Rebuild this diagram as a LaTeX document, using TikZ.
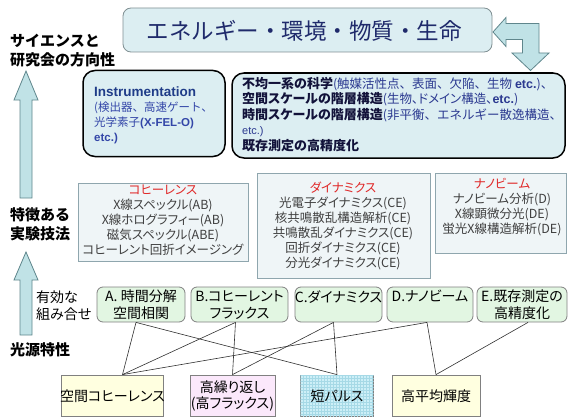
\documentclass[tikz,border=0pt]{standalone}
\usepackage{fontspec}
\setmainfont{Noto Sans CJK JP}[RawFeature={+palt}]
\newfontfamily\fw{Noto Sans CJK JP}
\newfontfamily\arl{Liberation Sans}
\usetikzlibrary{patterns,calc}
\definecolor{titleblue}{HTML}{1F2A6B}
\definecolor{topfill}{HTML}{DCEEF2}
\definecolor{topborder}{HTML}{7F8F92}
\definecolor{arrowfill}{HTML}{C0E2E6}
\definecolor{arrowdraw}{HTML}{5F868C}
\definecolor{techfill}{HTML}{EFF5F7}
\definecolor{techborder}{HTML}{8FA6AE}
\definecolor{combofill}{HTML}{E2F6E2}
\definecolor{yelfill}{HTML}{FFFFE0}
\definecolor{pinkfill}{HTML}{FBE8FB}
\definecolor{pulsefill}{HTML}{CDEFF7}
\definecolor{pulsegrid}{HTML}{A6D9E6}
\definecolor{redtitle}{HTML}{E02828}
\definecolor{graytext}{HTML}{404040}
\definecolor{boldnavy}{HTML}{12123A}
\definecolor{parenblue}{HTML}{2B3990}
\definecolor{instblue}{HTML}{1F3C88}
\definecolor{instlight}{HTML}{3346A8}
\definecolor{linkcol}{HTML}{303030}
\begin{document}
\begin{tikzpicture}[x=1pt,y=-1pt,
  arrowshape/.style={fill=arrowfill, draw=arrowdraw, line width=0.8},
  topbox/.style={draw=topborder, fill=topfill, rounded corners=8, line width=0.8, inner sep=0},
  scibox/.style={draw=black, fill=topfill, rounded corners=12, line width=1.5, inner sep=0},
  techbox/.style={draw=techborder, fill=techfill, line width=1, inner sep=0},
  combobox/.style={draw=gray, fill=combofill, rounded corners=6, line width=0.8, inner sep=0},
  srcbox/.style={draw=gray, line width=0.8, inner sep=0},
  link/.style={draw=linkcol, line width=0.6},
  sidelbl/.style={font=\fw\bfseries\fontsize{15}{19}\selectfont, align=left, anchor=west, inner sep=0},
  techtxt/.style={font=\fontsize{12.5}{15}\selectfont, text=graytext, align=center, inner sep=0},
  combotxt/.style={font=\fontsize{14}{17}\selectfont, align=center, anchor=north, inner sep=0},
  srctxt/.style={font=\fontsize{14}{16}\selectfont, align=center, inner sep=0}
]
\useasboundingbox (0,0) rectangle (570,420);

% left labels
\node[sidelbl] (lblsci) at (10,51) {サイエンスと\\研究会の方向性};
\node[sidelbl] (lbltech) at (10,224) {特徴ある\\実験技法};
\node[sidelbl] (lblsrc) at (10,350) {光源特性};
\node[font=\fontsize{14}{17}\selectfont, align=left, anchor=west, inner sep=0] (lblcomb) at (36,306) {有効な\\組み合せ};

% left arrows
\draw[arrowshape] (20,198) -- (20,100) -- (14,100) -- (26,71) -- (38,100) -- (32,100) -- (32,198) -- cycle;
\draw[arrowshape] (20,335) -- (20,280) -- (14,280) -- (26,252) -- (38,280) -- (32,280) -- (32,335) -- cycle;

% top box
\node[topbox, minimum width=369, minimum height=44] (top) at (307.5,30) {};
\node[font=\fw\fontsize{22.5}{26}\selectfont, text=titleblue, inner sep=0] (toptxt) at (304,31) {エネルギー・環境・物質・生命};

% bent arrow
\draw[arrowshape] (493,32) -- (506,17.5) -- (506,23.5) -- (539,23.5) -- (539,53) -- (549,53) -- (530.5,70.5) -- (512,53) -- (522.5,53) -- (522.5,39.5) -- (506,39.5) -- (506,46.5) -- cycle;

% science boxes
\node[scibox, minimum width=142, minimum height=86] (inst) at (154,113.5) {};
\node[anchor=north west, align=left, inner sep=0, text=instlight, font=\fontsize{11.5}{15}\selectfont] (insttxt) at (94,87)
 {{\color{instblue}\arl\bfseries\fontsize{13.5}{15}\selectfont Instrumentation}\\({\fw 検出器、高速ゲート、}\\光学素子{\arl\bfseries (X-FEL-O)}\\{\arl\bfseries etc.)}};
\node[scibox, minimum width=333, minimum height=85] (sci) at (398.5,115.5) {};
\node[anchor=north west, align=left, inner sep=0, font=\fontsize{13}{15.5}\selectfont, text=boldnavy] (scitxt) at (242,77)
 {\textbf{不均一系の科学}{\fw\color{parenblue}\fontsize{12.5}{15}\selectfont(触媒活性点、表面、欠陥、生物 {\arl\bfseries etc.})、}\\
  \textbf{空間スケールの階層構造}{\color{parenblue}\fontsize{12.5}{15}\selectfont(生物、ドメイン構造、{\arl\bfseries etc.})}\\
  \textbf{時間スケールの階層構造}{\fw\color{parenblue}\fontsize{12.5}{15}\selectfont(非平衡、エネルギー散逸構造、}\\
  {\color{parenblue}\arl\fontsize{11}{13}\selectfont etc.)}\\
  \textbf{既存測定の高精度化}};

% technique boxes
\node[techbox, minimum width=170, minimum height=78] (coh) at (163,222.5) {};
\node[techtxt] (cohtxt) at (163,220) {{\color{redtitle}コヒーレンス}\\X線スペックル(AB)\\X線ホログラフィー(AB)\\磁気スペックル(ABE)\\コヒーレント回折イメージング};
\node[techbox, minimum width=173, minimum height=105] (dyn) at (343.5,225.5) {};
\node[techtxt] (dyntxt) at (343,225.5) {{\color{redtitle}ダイナミクス}\\光電子ダイナミクス(CE)\\核共鳴散乱構造解析(CE)\\共鳴散乱ダイナミクス(CE)\\回折ダイナミクス(CE)\\分光ダイナミクス(CE)};
\node[techbox, minimum width=131, minimum height=80] (nano) at (500.5,213) {};
\node[techtxt] (nanotxt) at (502,207.5) {{\color{redtitle}ナノビーム}\\ナノビーム分析(D)\\X線顕微分光(DE)\\蛍光X線構造解析(DE)};

% combination boxes
\node[combobox, minimum width=88, minimum height=35] (A) at (141,304.5) {};
\node[combotxt] (Atxt) at (141,290) {A.\ 時間分解\\空間相関};
\node[combobox, minimum width=97, minimum height=35] (B) at (239.5,304.5) {};
\node[combotxt] (Btxt) at (239.5,290) {B.コヒーレント\\フラックス};
\node[combobox, minimum width=87, minimum height=35] (C) at (338.5,304.5) {};
\node[combotxt] (Ctxt) at (338.5,290) {C.ダイナミクス};
\node[combobox, minimum width=86, minimum height=35] (D) at (430,304.5) {};
\node[combotxt] (Dtxt) at (430,290) {D.ナノビーム};
\node[combobox, minimum width=90, minimum height=35] (E) at (522,304.5) {};
\node[combotxt] (Etxt) at (522,290) {E.既存測定の\\高精度化};

% source boxes
\node[srcbox, fill=yelfill, minimum width=102, minimum height=41] (scoh) at (112.5,395.5) {};
\node[srctxt] (scohtxt) at (112.5,396) {空間コヒーレンス};
\node[srcbox, fill=pinkfill, minimum width=85, minimum height=41] (hrep) at (232.5,395.5) {};
\node[srctxt] (hreptxt) at (232.5,396) {高繰り返し\\(高フラックス)};
\node[srcbox, fill=pulsefill, postaction={pattern=grid, pattern color=pulsegrid}, minimum width=73, minimum height=41] (spul) at (337,395.5) {};
\node[srctxt] (spultxt) at (337,396) {短パルス};
\node[srcbox, fill=yelfill, minimum width=88, minimum height=41] (hbri) at (436,395.5) {};
\node[srctxt] (hbritxt) at (436,396) {高平均輝度};

% connectors
\draw[link] ([xshift=-5]A.south) -- ([xshift=10]scoh.north);
\draw[link] ([xshift=-5]A.south) -- (spul.north);
\draw[link] ([xshift=-4]B.south) -- ([xshift=10]scoh.north);
\draw[link] ([xshift=-4]B.south) -- (hrep.north);
\draw[link] ([xshift=-5]C.south) -- (hrep.north);
\draw[link] ([xshift=-5]C.south) -- (spul.north);
\draw[link] ([xshift=-3]D.south) -- ([xshift=10]scoh.north);
\draw[link] ([xshift=-3]D.south) -- (hbri.north);
\draw[link] ([xshift=6]E.south) -- (hbri.north);
\end{tikzpicture}
\end{document}
